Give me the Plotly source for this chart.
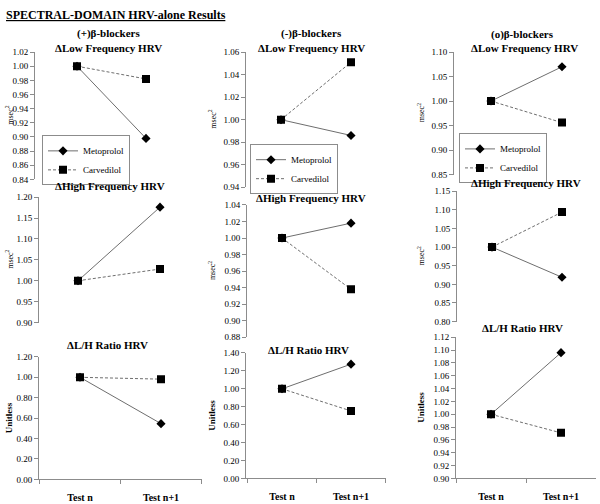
import plotly.graph_objects as go

# ---------------- data ----------------
categories = ["Test n", "Test n+1"]
series_names = ["Metoprolol", "Carvedilol"]
column_titles = ["(+)β-blockers", "(-)β-blockers", "(o)β-blockers"]
row_titles = ["ΔLow Frequency HRV", "ΔHigh Frequency HRV", "ΔL/H Ratio HRV"]
row_units = ["msec<sup>2</sup>", "msec<sup>2</sup>", "Unitless"]

# (+) beta-blockers
plus_lf_metoprolol = [1.00, 0.898]
plus_lf_carvedilol = [1.00, 0.982]
plus_hf_metoprolol = [1.00, 1.176]
plus_hf_carvedilol = [1.00, 1.028]
plus_lh_metoprolol = [1.00, 0.546]
plus_lh_carvedilol = [1.00, 0.982]

# (-) beta-blockers
minus_lf_metoprolol = [1.00, 0.986]
minus_lf_carvedilol = [1.00, 1.051]
minus_hf_metoprolol = [1.00, 1.018]
minus_hf_carvedilol = [1.00, 0.938]
minus_lh_metoprolol = [1.00, 1.275]
minus_lh_carvedilol = [1.00, 0.753]

# (o) beta-blockers
zero_lf_metoprolol = [1.00, 1.070]
zero_lf_carvedilol = [1.00, 0.956]
zero_hf_metoprolol = [1.00, 0.919]
zero_hf_carvedilol = [1.00, 1.094]
zero_lh_metoprolol = [1.00, 1.096]
zero_lh_carvedilol = [1.00, 0.971]

# y-axis scales (min, max, step) per panel
plus_ranges = [(0.84, 1.02, 0.02), (0.90, 1.20, 0.05), (0.00, 1.20, 0.20)]
minus_ranges = [(0.94, 1.06, 0.02), (0.88, 1.04, 0.02), (0.00, 1.40, 0.20)]
zero_ranges = [(0.85, 1.10, 0.05), (0.80, 1.15, 0.05), (0.90, 1.12, 0.02)]

data = [
    [(plus_lf_metoprolol, plus_lf_carvedilol), (plus_hf_metoprolol, plus_hf_carvedilol), (plus_lh_metoprolol, plus_lh_carvedilol)],
    [(minus_lf_metoprolol, minus_lf_carvedilol), (minus_hf_metoprolol, minus_hf_carvedilol), (minus_lh_metoprolol, minus_lh_carvedilol)],
    [(zero_lf_metoprolol, zero_lf_carvedilol), (zero_hf_metoprolol, zero_hf_carvedilol), (zero_lh_metoprolol, zero_lh_carvedilol)],
]
ranges = [plus_ranges, minus_ranges, zero_ranges]

# ---------------- layout geometry (pixels) ----------------
W, H = 600, 504
# per panel: axis-line x, first category x, second category x, top y, bottom y
geom = [
    [(35, 77, 146, 48, 178), (39, 78, 160, 196, 324), (39, 80, 161, 359, 484)],
    [(246, 281, 351, 48, 186), (247, 282, 351, 204, 339), (246, 282, 351, 355, 483)],
    [(454, 491, 562, 48, 173), (457, 492, 562, 190, 323), (456, 491, 561, 339, 483)],
]
title_pos = [
    [(108, 44), (110, 185), (107, 347)],
    [(311, 44), (311, 197), (308, 352)],
    [(524, 44), (526, 182), (522, 330)],
]
col_title_pos = [(108, 29), (311, 29), (522, 30)]
unit_x = [9, 212, 421]
legend_pos = [(42, 133), (250, 142), (459, 131)]

SERIF = "Liberation Serif, Times New Roman, serif"
AXIS_COL = "#8c8c8c"
LINE_COL = "#6e6e6e"

fig = go.Figure()
layout = dict(
    width=W, height=H, autosize=False,
    margin=dict(l=0, r=0, t=0, b=0),
    paper_bgcolor="white", plot_bgcolor="white",
    font=dict(family=SERIF, size=9, color="black"),
    showlegend=True,
)
annotations = []

k = 0
for c in range(3):
    for r in range(3):
        k += 1
        xa = "xaxis" if k == 1 else f"xaxis{k}"
        ya = "yaxis" if k == 1 else f"yaxis{k}"
        xr = "x" if k == 1 else f"x{k}"
        yr = "y" if k == 1 else f"y{k}"
        x0, p0, p1, yt, yb = geom[c][r]
        sc = p1 - p0
        xmin = -(p0 - x0) / sc
        xmax = 1.5
        right_px = p0 + xmax * sc
        ymin, ymax, step = ranges[c][r]
        bottom = (r == 2)
        layout[xa] = dict(
            domain=[x0 / W, right_px / W], anchor=yr,
            type="category", range=[xmin, xmax],
            visible=bottom,
            showline=bottom, linecolor=AXIS_COL, linewidth=1,
            ticks="outside" if bottom else "", tickson="boundaries",
            ticklen=4, tickcolor=AXIS_COL, ticklabelstandoff=9,
            showticklabels=bottom, showgrid=False, zeroline=False,
            tickfont=dict(family=SERIF, size=10, color="black", weight="bold"),
        )
        layout[ya] = dict(
            domain=[1 - yb / H, 1 - yt / H], anchor=xr,
            range=[ymin, ymax], dtick=step, tick0=ymin, tickformat=".2f",
            showline=True, linecolor=AXIS_COL, linewidth=1,
            ticks="outside", ticklen=4, tickcolor=AXIS_COL,
            showgrid=False, zeroline=False,
            tickfont=dict(family=SERIF, size=9, color="black"),
        )
        met, car = data[c][r]
        leg = "legend" if c == 0 else f"legend{c + 1}"
        show = (r == 0)
        fig.add_trace(go.Scatter(
            x=categories, y=met, name=series_names[0], xaxis=xr, yaxis=yr,
            mode="lines+markers", legend=leg, showlegend=show,
            line=dict(color=LINE_COL, width=1),
            marker=dict(symbol="diamond", size=7, color="black"),
        ))
        fig.add_trace(go.Scatter(
            x=categories, y=car, name=series_names[1], xaxis=xr, yaxis=yr,
            mode="lines+markers", legend=leg, showlegend=show,
            line=dict(color=LINE_COL, width=1, dash="3px,2px"),
            marker=dict(symbol="square", size=8, color="black"),
        ))
        tx, ty = title_pos[c][r]
        annotations.append(dict(
            text=f"<b>{row_titles[r]}</b>", x=tx / W, y=1 - ty / H,
            xref="paper", yref="paper", showarrow=False,
            xanchor="center", yanchor="middle",
            font=dict(family=SERIF, size=11, color="black"),
        ))
        unit = row_units[r]
        annotations.append(dict(
            text=(f"<b>{unit}</b>" if r == 2 else unit),
            x=unit_x[c] / W, y=1 - ((yt + yb) / 2) / H,
            xref="paper", yref="paper", showarrow=False, textangle=-90,
            xanchor="center", yanchor="middle",
            font=dict(family=SERIF, size=9 if r == 2 else 8, color="black"),
        ))
    cx, cy = col_title_pos[c]
    annotations.append(dict(
        text=f"<b>{column_titles[c]}</b>", x=cx / W, y=1 - cy / H,
        xref="paper", yref="paper", showarrow=False,
        xanchor="center", yanchor="middle",
        font=dict(family=SERIF, size=11, color="black"),
    ))
    lx, ly = legend_pos[c]
    leg = "legend" if c == 0 else f"legend{c + 1}"
    layout[leg] = dict(
        x=lx / W, y=1 - ly / H, xanchor="left", yanchor="top",
        xref="paper", yref="paper",
        bgcolor="white", bordercolor=AXIS_COL, borderwidth=1,
        font=dict(family=SERIF, size=9, color="black"),
        itemwidth=30, tracegroupgap=0,
    )

annotations.append(dict(
    text="<u><b>SPECTRAL-DOMAIN HRV-alone Results</b></u>",
    x=4 / W, y=1 - 10 / H, xref="paper", yref="paper", showarrow=False,
    xanchor="left", yanchor="middle",
    font=dict(family=SERIF, size=12, color="black"),
))
layout["annotations"] = annotations
fig.update_layout(**layout)
fig.write_html(
    "out.html",
    config={"displayModeBar": False},
    post_script="document.body.style.margin='0';document.body.style.padding='0';",
)
